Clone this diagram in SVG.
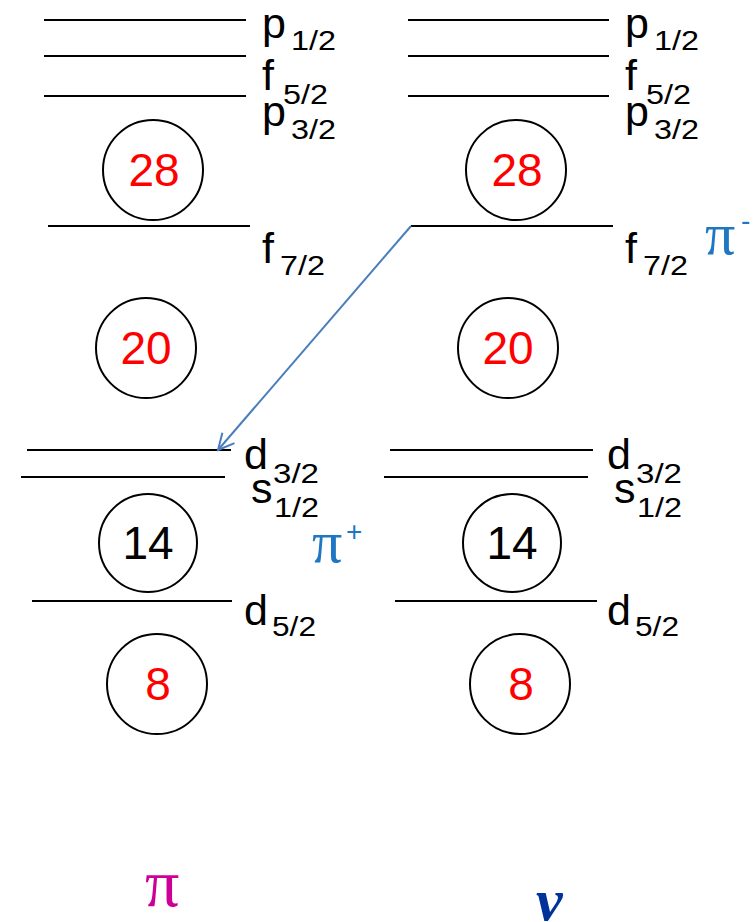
<svg xmlns="http://www.w3.org/2000/svg" width="754" height="922" viewBox="0 0 754 922">
<defs>
<style>
.lvl{stroke:#000;stroke-width:2;fill:none}
.shell{stroke:#000;stroke-width:2;fill:#fff}
.num{font-family:"Liberation Sans",Arial,sans-serif;font-size:46px;text-anchor:middle;fill:#ff0000}
.blk{fill:#000}
.lb{font-family:"Liberation Sans",Arial,sans-serif;font-size:43px;fill:#000}
.sub{font-family:"Liberation Sans",Arial,sans-serif;font-size:27px;fill:#000}
.pi{font-family:"Liberation Serif","Times New Roman",serif;font-size:60px;fill:#1f77c4}
.sup{font-family:"Liberation Sans",Arial,sans-serif;font-size:28px;fill:#1f77c4}
</style>
<marker id="ah" viewBox="0 0 20 20" refX="18" refY="10" markerWidth="20" markerHeight="20" markerUnits="userSpaceOnUse" orient="auto">
<path d="M2,2 L18,10 L2,18" fill="none" stroke="#4a7ebb" stroke-width="2"/>
</marker>
</defs>
<g id="left">
<g id="L-p12"><line class="lvl" x1="44" y1="20" x2="246" y2="20"/><text class="lb" x="262" y="38">p</text><text class="sub" x="291" y="50" textLength="45" lengthAdjust="spacingAndGlyphs">1/2</text></g>
<g id="L-f52"><line class="lvl" x1="44" y1="56" x2="246" y2="56"/><text class="lb" x="262" y="90">f</text><text class="sub" x="283" y="104" textLength="45" lengthAdjust="spacingAndGlyphs">5/2</text></g>
<g id="L-p32"><line class="lvl" x1="44" y1="96" x2="246" y2="96"/><text class="lb" x="262" y="126">p</text><text class="sub" x="291" y="139" textLength="45" lengthAdjust="spacingAndGlyphs">3/2</text></g>
<g id="L-28"><circle class="shell" cx="153" cy="170" r="50"/><text class="num" x="154" y="186">28</text></g>
<g id="L-f72"><line class="lvl" x1="48" y1="226" x2="250" y2="226"/><text class="lb" x="262" y="263">f</text><text class="sub" x="280" y="275" textLength="45" lengthAdjust="spacingAndGlyphs">7/2</text></g>
<g id="L-20"><circle class="shell" cx="146" cy="348" r="50"/><text class="num" x="146" y="364">20</text></g>
<g id="L-d32"><line class="lvl" x1="27" y1="450" x2="231" y2="450"/><text class="lb" x="244" y="469">d</text><text class="sub" x="273" y="483" textLength="46" lengthAdjust="spacingAndGlyphs">3/2</text></g>
<g id="L-s12"><line class="lvl" x1="21" y1="477" x2="225" y2="477"/><text class="lb" x="251" y="503">s</text><text class="sub" x="274" y="517" textLength="45" lengthAdjust="spacingAndGlyphs">1/2</text></g>
<g id="L-14"><circle class="shell" cx="148" cy="543" r="49"/><text class="num blk" x="148" y="559">14</text></g>
<g id="L-d52"><line class="lvl" x1="32" y1="601" x2="232" y2="601"/><text class="lb" x="244" y="625">d</text><text class="sub" x="272" y="636" textLength="44" lengthAdjust="spacingAndGlyphs">5/2</text></g>
<g id="L-8"><circle class="shell" cx="157" cy="684" r="50"/><text class="num" x="158" y="700">8</text></g>
<g id="pi-plus"><text class="pi" x="312" y="562">π</text><text class="sup" x="346" y="541">+</text></g>
</g>
<g id="right">
<g id="R-p12"><line class="lvl" x1="408" y1="20" x2="609" y2="20"/><text class="lb" x="625" y="38">p</text><text class="sub" x="654" y="50" textLength="45" lengthAdjust="spacingAndGlyphs">1/2</text></g>
<g id="R-f52"><line class="lvl" x1="408" y1="56" x2="609" y2="56"/><text class="lb" x="625" y="90">f</text><text class="sub" x="646" y="104" textLength="45" lengthAdjust="spacingAndGlyphs">5/2</text></g>
<g id="R-p32"><line class="lvl" x1="408" y1="96" x2="609" y2="96"/><text class="lb" x="625" y="126">p</text><text class="sub" x="654" y="139" textLength="45" lengthAdjust="spacingAndGlyphs">3/2</text></g>
<g id="R-28"><circle class="shell" cx="516" cy="170" r="50"/><text class="num" x="517" y="186">28</text></g>
<g id="R-f72"><line class="lvl" x1="411" y1="226" x2="613" y2="226"/><text class="lb" x="625" y="263">f</text><text class="sub" x="643" y="275" textLength="45" lengthAdjust="spacingAndGlyphs">7/2</text></g>
<g id="R-20"><circle class="shell" cx="508" cy="348" r="50"/><text class="num" x="508" y="364">20</text></g>
<g id="R-d32"><line class="lvl" x1="390" y1="450" x2="593" y2="450"/><text class="lb" x="607" y="469">d</text><text class="sub" x="636" y="483" textLength="46" lengthAdjust="spacingAndGlyphs">3/2</text></g>
<g id="R-s12"><line class="lvl" x1="384" y1="477" x2="588" y2="477"/><text class="lb" x="614" y="503">s</text><text class="sub" x="637" y="517" textLength="45" lengthAdjust="spacingAndGlyphs">1/2</text></g>
<g id="R-14"><circle class="shell" cx="512" cy="543" r="49"/><text class="num blk" x="512" y="559">14</text></g>
<g id="R-d52"><line class="lvl" x1="395" y1="601" x2="597" y2="601"/><text class="lb" x="607" y="625">d</text><text class="sub" x="635" y="636" textLength="44" lengthAdjust="spacingAndGlyphs">5/2</text></g>
<g id="R-8"><circle class="shell" cx="520" cy="684" r="50"/><text class="num" x="521" y="700">8</text></g>
<g id="pi-minus"><text class="pi" x="705" y="254">π</text><text class="sup" x="741" y="230">-</text></g>
</g>
<g id="connectors">
<line x1="411" y1="226" x2="218" y2="450" stroke="#4a7ebb" stroke-width="2" marker-end="url(#ah)"/>
</g>
<g id="titles">
<text x="145" y="906" font-family="Liberation Serif,serif" font-size="68" fill="#cc0099">π</text>
<text x="536" y="920" font-family="Liberation Serif,serif" font-size="60" font-weight="bold" font-style="italic" fill="#003399">ν</text>
</g>
</svg>
